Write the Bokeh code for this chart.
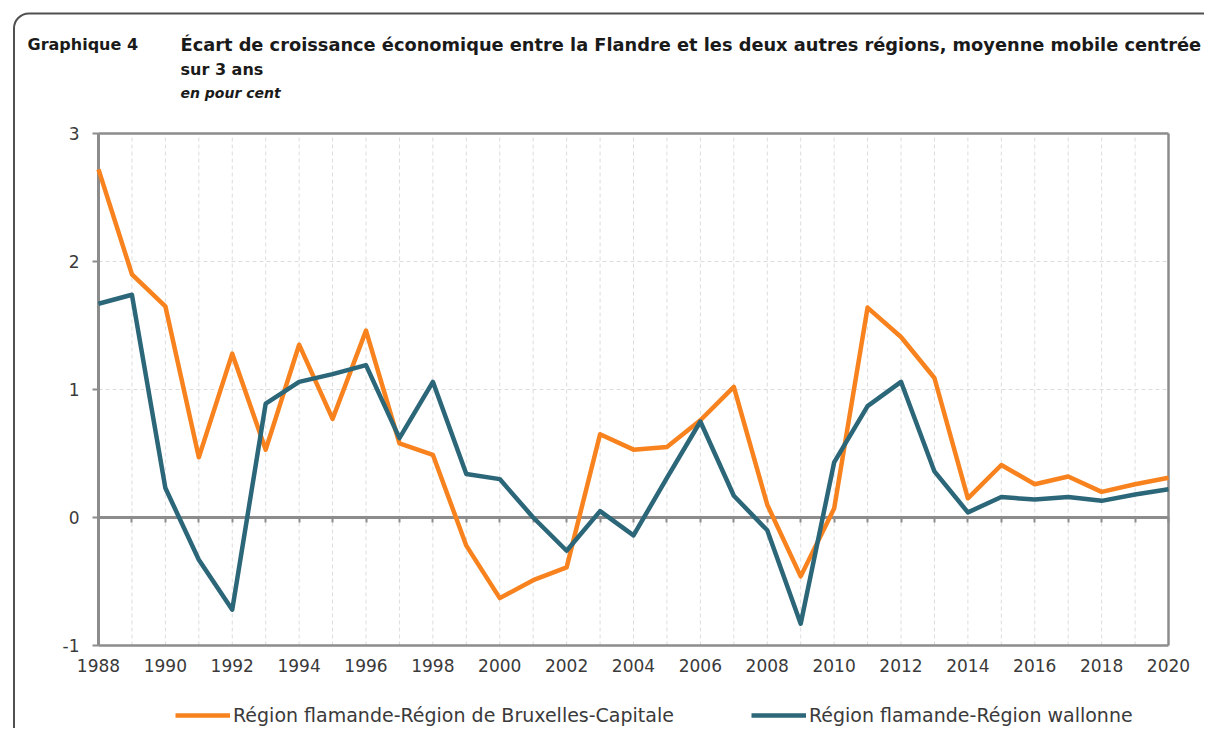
from bokeh.plotting import figure
from bokeh.models import Range1d, FixedTicker, Legend, LegendItem, Label, LinearAxis, Grid
from bokeh.embed import file_html
from bokeh.resources import INLINE

years = list(range(1988, 2021))
flandre_bruxelles = [2.72, 1.90, 1.65, 0.47, 1.28, 0.53, 1.35, 0.77, 1.46, 0.58,
                     0.49, -0.22, -0.63, -0.49, -0.39, 0.65, 0.53, 0.55, 0.76, 1.02,
                     0.10, -0.46, 0.07, 1.64, 1.41, 1.09, 0.15, 0.41, 0.26, 0.32,
                     0.20, 0.26, 0.31]
flandre_wallonie = [1.67, 1.74, 0.23, -0.33, -0.72, 0.89, 1.06, 1.12, 1.19, 0.62,
                    1.06, 0.34, 0.30, 0.00, -0.26, 0.05, -0.14, 0.31, 0.75, 0.17,
                    -0.10, -0.83, 0.43, 0.87, 1.06, 0.36, 0.04, 0.16, 0.14, 0.16,
                    0.13, 0.18, 0.22]
y_ticks = [-1, 0, 1, 2, 3]
x_label_years = years[::2]
label_bxl = "Région flamande-Région de Bruxelles-Capitale"
label_wal = "Région flamande-Région wallonne"
title_num = "Graphique 4"
title_l1 = "Écart de croissance économique entre la Flandre et les deux autres régions, moyenne mobile centrée"
title_l2 = "sur 3 ans"
subtitle = "en pour cent"

ORANGE = "#F7821E"
BLUE = "#2B6679"
GRAY = "#8C8C8C"
GRID = "#DCDCDC"
TXT = "#3a3a3a"
FONT = "DejaVu Sans"

# ---- layout (pixels in the canvas) ----
W, H = 1204, 728
PLOT_L, PLOT_R, PLOT_T, PLOT_B = 98, 1168, 133, 645   # where the data box sits
x0, x1 = years[0], years[-1]
y0, y1 = y_ticks[0], y_ticks[-1]
ppx = (PLOT_R - PLOT_L) / (x1 - x0)
ppy = (PLOT_B - PLOT_T) / (y1 - y0)
x_range = Range1d(x0 - PLOT_L / ppx, x1 + (W - PLOT_R) / ppx)
y_range = Range1d(y0 - (H - PLOT_B) / ppy, y1 + PLOT_T / ppy)

CARD = ("url(\"data:image/svg+xml;utf8,<svg xmlns='http://www.w3.org/2000/svg' "
        f"width='{W}' height='{H}'><path d='M14 800 V29 A15 15 0 0 1 29 13.5 H1400' "
        "fill='none' stroke='%23505050' stroke-width='2'/></svg>\")")

p = figure(width=W, height=H, output_backend="svg", toolbar_location=None,
           x_range=x_range, y_range=y_range, x_axis_location=None, y_axis_location=None,
           min_border=0, min_border_left=0, min_border_right=0,
           min_border_top=0, min_border_bottom=0)
p.center = [r for r in p.center if not isinstance(r, Grid)]
p.outline_line_color = None
p.background_fill_alpha = 0
p.border_fill_alpha = 0
p.styles = {"background-color": "white", "background-image": CARD,
            "background-repeat": "no-repeat"}

# dashed grid limited to the data box
p.segment(x0=years, y0=[y0] * len(years), x1=years, y1=[y1] * len(years),
          line_color=GRID, line_dash="4 3", line_width=1, level="underlay")
p.segment(x0=[x0] * len(y_ticks), y0=y_ticks, x1=[x1] * len(y_ticks), y1=y_ticks,
          line_color=GRID, line_dash="4 3", line_width=1, level="underlay")

# y axis at the left edge of the data box
ya = LinearAxis(fixed_location=x0, bounds=(y0, y1), ticker=FixedTicker(ticks=y_ticks),
                major_label_overrides={t: str(t) for t in y_ticks},
                axis_line_color=GRAY, axis_line_width=3,
                major_tick_line_color=GRAY, major_tick_line_width=2,
                major_tick_out=6, major_tick_in=0, minor_tick_line_color=None,
                major_label_standoff=13, major_label_text_font=FONT,
                major_label_text_font_size="17px", major_label_text_color=TXT)
p.add_layout(ya, "left")

# x axis at the bottom of the data box
xa = LinearAxis(fixed_location=y0, bounds=(x0, x1), ticker=FixedTicker(ticks=x_label_years),
                major_label_overrides={t: str(t) for t in x_label_years},
                axis_line_color=GRAY, axis_line_width=2.5,
                major_tick_line_color=None, minor_tick_line_color=None,
                major_label_standoff=7, major_label_text_font=FONT,
                major_label_text_font_size="17px", major_label_text_color=TXT)
p.add_layout(xa, "below")

# zero line with a tick for every year
za = LinearAxis(fixed_location=0, bounds=(x0, x1), ticker=FixedTicker(ticks=years),
                axis_line_color=GRAY, axis_line_width=3,
                major_tick_line_color=GRAY, major_tick_line_width=2,
                major_tick_out=5, major_tick_in=0, minor_tick_line_color=None,
                major_label_text_color=None)
p.add_layout(za, "below")

# top and right edges of the box
ta = LinearAxis(fixed_location=y1, bounds=(x0, x1), ticker=FixedTicker(ticks=[]),
                axis_line_color=GRAY, axis_line_width=2.5, major_tick_line_color=None,
                minor_tick_line_color=None, major_label_text_color=None)
p.add_layout(ta, "above")
ra = LinearAxis(fixed_location=x1, bounds=(y0, y1), ticker=FixedTicker(ticks=[]),
                axis_line_color=GRAY, axis_line_width=2.5, major_tick_line_color=None,
                minor_tick_line_color=None, major_label_text_color=None)
p.add_layout(ra, "right")

r1 = p.line(years, flandre_bruxelles, line_color=ORANGE, line_width=4.5,
            line_join="round", level="overlay")
r2 = p.line(years, flandre_wallonie, line_color=BLUE, line_width=4.5,
            line_join="round", level="overlay")

legend = Legend(items=[LegendItem(label=label_bxl, renderers=[r1]),
                       LegendItem(label=label_wal, renderers=[r2])],
                orientation="horizontal", location=(175, H - 726),
                glyph_width=55, glyph_height=16, label_height=16, label_standoff=3,
                spacing=77, padding=0, margin=0,
                border_line_color=None, background_fill_alpha=0,
                label_text_font=FONT, label_text_font_size="19px",
                label_text_color=TXT)
p.add_layout(legend, "center")

# titles: x from the left edge, baseline given from the top of the canvas
for txt, x, base, style, size in [(title_num, 27, 44, "bold", "16px"),
                                   (title_l1, 180, 44, "bold", "17.8px"),
                                   (title_l2, 180, 69, "bold", "16px"),
                                   (subtitle, 180, 92, "bold italic", "14px")]:
    p.add_layout(Label(x=x, y=H - base, x_units="screen", y_units="screen", text=txt,
                       text_font=FONT, text_font_style=style, text_font_size=size,
                       text_color="#1a1a1a", text_baseline="alphabetic"))

open("out.html", "w").write(file_html(p, INLINE))
